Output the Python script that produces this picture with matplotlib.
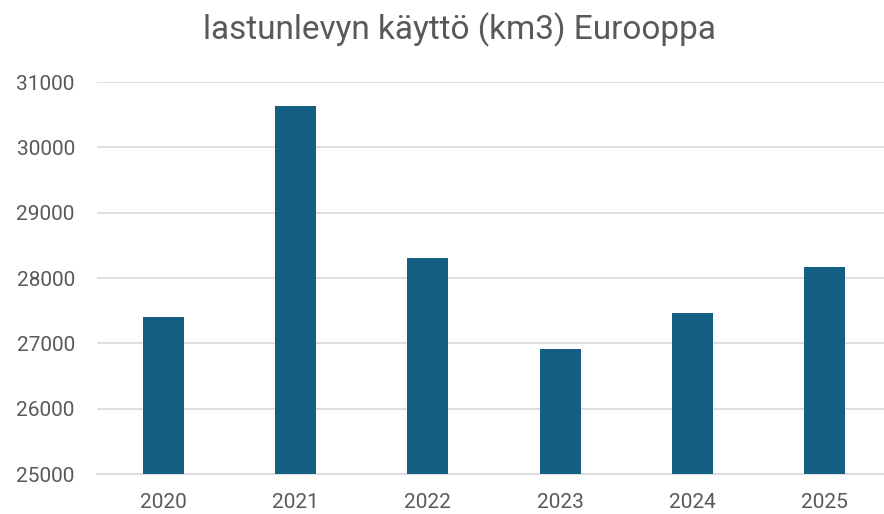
import matplotlib.pyplot as plt

# lastunlevyn käyttö Euroopassa vuosittain
years = ["2020", "2021", "2022", "2023", "2024", "2025"]
usage = [27410, 30630, 28310, 26915, 27465, 28175]

plt.rcParams['font.family'] = ['Roboto', 'DejaVu Sans']

fig = plt.figure(figsize=(8.84, 5.14), dpi=100)
W, H = 884, 514
ax = fig.add_axes([97 / W, (H - 474) / H, (W - 97) / W, 392 / H])

x = range(len(years))
ax.bar(x, usage, width=0.31, color='#156082', zorder=3)

ax.set_ylim(25000, 31000)
ax.set_yticks(range(25000, 31001, 1000))
ax.set_xlim(-0.5, -0.5 + (W - 97) / 132.3)
ax.set_xticks(list(x))
ax.set_xticklabels(years)

ax.grid(axis='y', color='#d9d9d9', linewidth=1.2, zorder=0)
for s in ['top', 'right', 'left']:
    ax.spines[s].set_visible(False)
ax.spines['bottom'].set_color('#d9d9d9')
ax.spines['bottom'].set_linewidth(1.2)
ax.tick_params(axis='both', length=0, labelsize=15, labelcolor='#595959')
ax.tick_params(axis='y', pad=16)
ax.tick_params(axis='x', pad=14)

fig.text(459 / W, 1 - 30 / H, "lastunlevyn käyttö (km3) Eurooppa",
         ha='center', va='center', fontsize=24, color='#595959')

fig.savefig('out.png', dpi=100)
